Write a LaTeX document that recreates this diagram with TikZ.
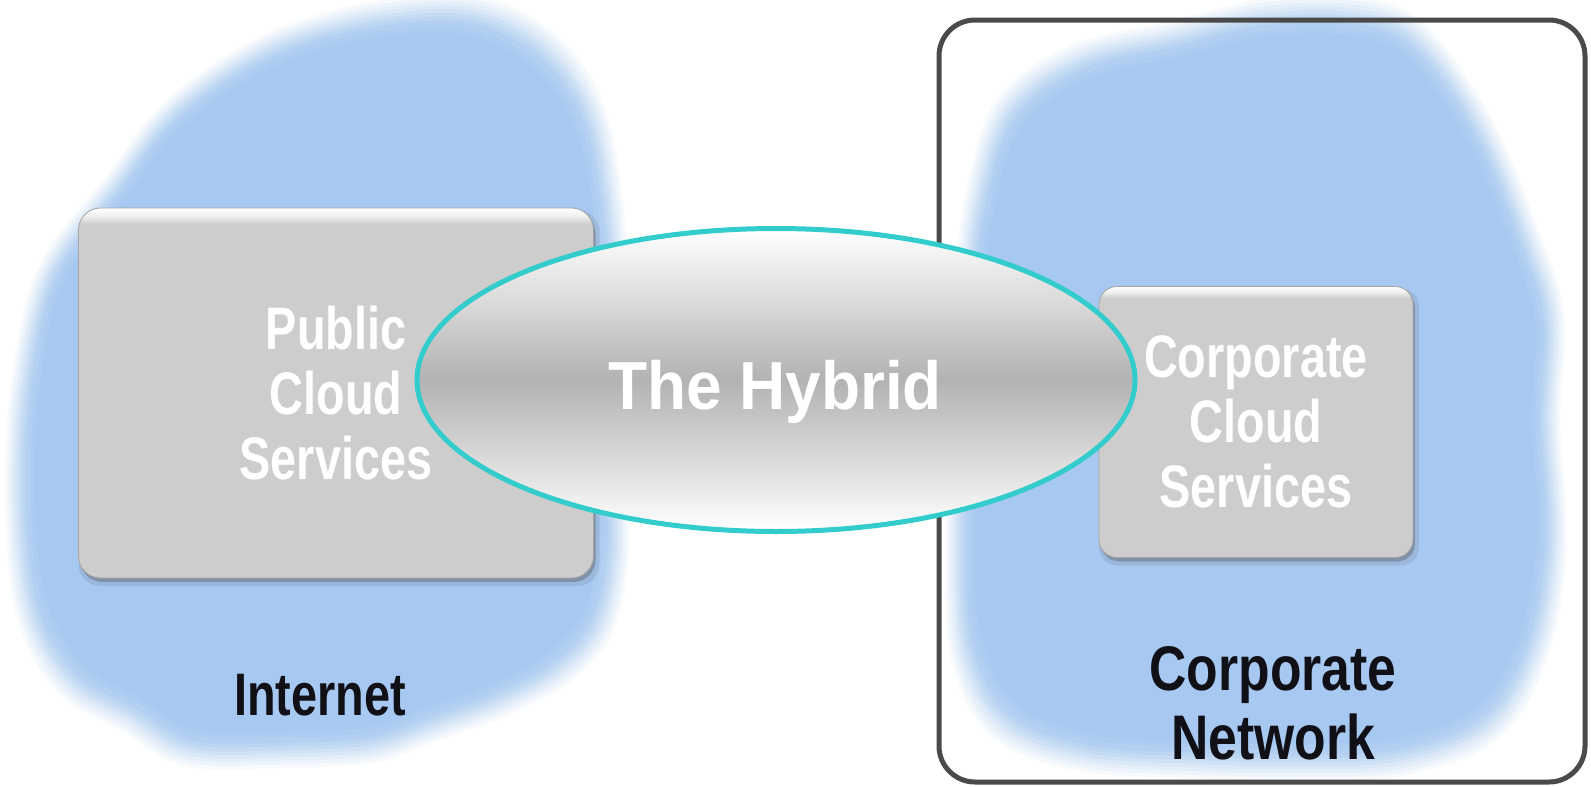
\documentclass[tikz,border=0pt]{standalone}
\usepackage{fontspec}
\setmainfont{Liberation Sans}
\usetikzlibrary{shapes.geometric}

\definecolor{cloudblue}{RGB}{162,198,241}
\definecolor{boxgray}{RGB}{205,205,205}
\definecolor{hybridrim}{RGB}{51,204,204}
\definecolor{hybridmid}{RGB}{178,178,178}
\definecolor{framegray}{RGB}{74,74,74}
\definecolor{labelink}{RGB}{16,16,22}

% box face: flat grey with a thin bright rim along the top edge
% (the path spans 25bp..75bp of the shading)
\pgfdeclareverticalshading{boxface}{100bp}{
  color(0bp)=(boxgray); color(72.8bp)=(boxgray);
  color(74bp)=(white!70!boxgray); color(75bp)=(white); color(100bp)=(white)}

\tikzset{
  svcbox/.style={rectangle, rounded corners=22pt, shading=boxface,
    draw=boxgray!80!black, line width=0.8pt, inner sep=0pt},
  svcshadow/.style={rectangle, rounded corners=22pt, fill=black!70, inner sep=0pt},
  svctext/.style={text=white, align=center, inner sep=0pt,
    font=\fontsize{60}{65}\selectfont\bfseries, xscale=0.78},
  labeltext/.style={text=labelink, align=center, inner sep=0pt,
    font=\fontsize{60}{69}\selectfont\bfseries},
  hybrid/.style={ellipse, draw=hybridrim, line width=5pt, inner sep=0pt,
    top color=white, bottom color=white, middle color=hybridmid},
  netframe/.style={draw=framegray, line width=5pt, rounded corners=36pt},
}

\begin{document}
\begin{tikzpicture}[x=1pt, y=-1pt]
\useasboundingbox (0,0) rectangle (1591,787);
\fill[white] (0,0) rectangle (1591,787);

% soft-edged cloud behind the public services
\foreach \s/\o in {1.05/0.08,1.04/0.1,1.03/0.12,1.02/0.15,1.01/0.18,1.0/0.22,0.99/0.26,0.98/0.3,0.965/0.4,0.95/0.5}{
  \fill[cloudblue, opacity=\o, scale around={\s:(318,390)}]
    plot[smooth cycle, tension=0.6] coordinates {
      (117,185) (167,120) (233,70) (300,38) (385,18) (470,15) (540,47)
      (588,112) (608,205) (615,310) (610,430) (614,545) (598,622)
      (558,668) (498,700) (430,725) (370,745) (280,750) (190,748)
      (132,715) (72,680) (32,610) (20,500) (26,380) (52,272)};
}

% soft-edged cloud inside the corporate network
\foreach \s/\o in {1.05/0.08,1.04/0.1,1.03/0.12,1.02/0.15,1.01/0.18,1.0/0.22,0.99/0.26,0.98/0.3,0.965/0.4,0.95/0.5}{
  \fill[cloudblue, opacity=\o, scale around={\s:(1258,395)}]
    plot[smooth cycle, tension=0.6] coordinates {
      (1010,112) (1080,62) (1170,40) (1262,18) (1352,16) (1415,40)
      (1480,130) (1528,245) (1550,320) (1546,420) (1552,540) (1534,645)
      (1488,722) (1400,757) (1300,762) (1190,760) (1082,752) (1004,720)
      (966,648) (960,540) (964,420) (968,300) (980,200)};
}

% corporate network boundary
\draw[netframe] (939,20) rectangle (1585,782);

% service boxes with drop shadows
\node[svcshadow, opacity=0.12, minimum width=521pt, minimum height=376pt] (pubsh2) at (339,398) {};
\node[svcshadow, opacity=0.35, minimum width=515pt, minimum height=370pt] (pubsh) at (338,397) {};
\node[svcbox, minimum width=515pt, minimum height=370pt] (pub) at (336,393) {};
\node[svcshadow, opacity=0.12, rounded corners=18pt, minimum width=320pt, minimum height=277pt] (corpsh2) at (1259,427) {};
\node[svcshadow, opacity=0.35, rounded corners=18pt, minimum width=314pt, minimum height=271pt] (corpsh) at (1258,426) {};
\node[svcbox, rounded corners=18pt, minimum width=314pt, minimum height=271pt] (corp) at (1256,422) {};

\node[svctext] (pubtxt) at (pub.center) {Public\\Cloud\\Services};
\node[svctext] (corptxt) at (corp.center) {Corporate\\Cloud\\Services};

% network labels
\node[labeltext, xscale=0.78, anchor=base] (inet) at (320,715) {Internet};
\node[labeltext, font=\fontsize{63}{69}\selectfont\bfseries, xscale=0.82] (corpnet) at (1273,703) {Corporate\\Network};

% the hybrid link between the two
\node[hybrid, minimum width=718pt, minimum height=303pt] (hyb) at (776,380) {};
\node[text=white, inner sep=0pt, anchor=base, xscale=0.94,
      font=\fontsize{68}{72}\selectfont\bfseries] (hybtxt) at (775,409) {The Hybrid};
\end{tikzpicture}
\end{document}
